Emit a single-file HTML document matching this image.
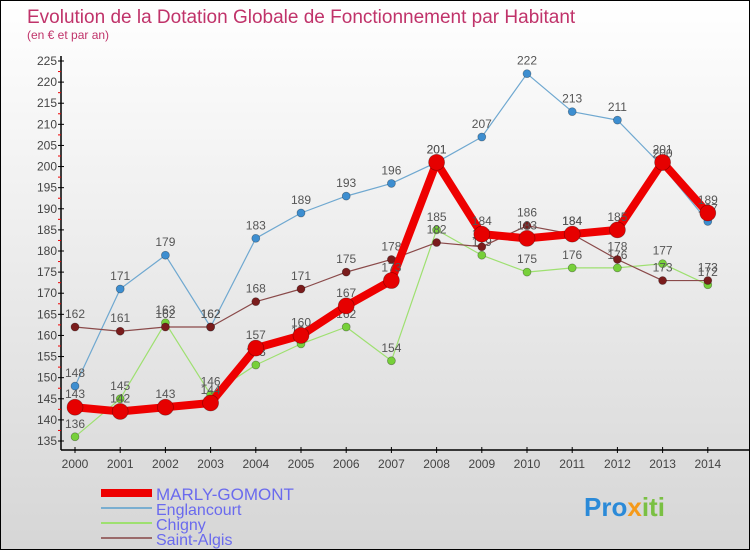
<!DOCTYPE html>
<html><head><meta charset="utf-8"><style>
body{margin:0;width:750px;height:550px;overflow:hidden;font-family:"Liberation Sans",sans-serif}
#wrap{position:relative;width:748px;height:548px;border:1px solid #000;background:linear-gradient(#fff,#d6d6d6)}
</style></head><body>
<div id="wrap">
<svg id="chart" width="748" height="548" font-family="Liberation Sans, sans-serif"></svg>
</div>
<script>
const years=[2000,2001,2002,2003,2004,2005,2006,2007,2008,2009,2010,2011,2012,2013,2014];
const marly=[143,142,143,144,157,160,167,173,201,184,183,184,185,201,189];
const englancourt=[148,171,179,162,183,189,193,196,201,207,222,213,211,200,187];
const chigny=[136,145,163,146,153,158,162,154,185,179,175,176,176,177,172];
const saintAlgis=[162,161,162,162,168,171,175,178,182,181,186,184,178,173,173];
const yTicks=[135,140,145,150,155,160,165,170,175,180,185,190,195,200,205,210,215,220,225];
const NS="http://www.w3.org/2000/svg";
const svg=document.getElementById('chart');
const x=i=>74+i*45.2;
const y=v=>440-(v-135)*(380/90);
function mk(t,a,p){const e=document.createElementNS(NS,t);for(const k in a)e.setAttribute(k,a[k]);(p||svg).appendChild(e);return e;}
let t=mk('text',{x:26,y:22,'font-size':19,fill:'#c0336a'});t.textContent='Evolution de la Dotation Globale de Fonctionnement par Habitant';


t=mk('text',{x:26,y:38,'font-size':12,fill:'#c0336a'});t.textContent='(en € et par an)';


let ax=mk('line',{x1:60,y1:55,x2:60,y2:449,stroke:'#000','stroke-width':1.5});


ax=mk('line',{x1:60,y1:449,x2:748,y2:449,stroke:'#000','stroke-width':1.5});


yTicks.forEach((v,i)=>{
 mk('line',{x1:57,y1:y(v),x2:63,y2:y(v),stroke:'#000'});
 if(i<yTicks.length-1) mk('line',{x1:57,y1:y(v+2.5),x2:60,y2:y(v+2.5),stroke:'#e00'});
 const l=mk('text',{x:56,y:y(v)+4,'font-size':12,fill:'#444','text-anchor':'end'});l.textContent=v;
 
 
});
years.forEach((yr,i)=>{
 mk('line',{x1:x(i),y1:446,x2:x(i),y2:452,stroke:'#000'});
 const l=mk('text',{x:x(i),y:467,'font-size':12,fill:'#444','text-anchor':'middle'});l.textContent=yr;
 
 
});
function series(data,color,w,r,name,dot){
 const g=mk('g',{});
 
 
 mk('polyline',{points:data.map((v,i)=>x(i)+','+y(v)).join(' '),fill:'none',stroke:color,'stroke-width':w,'stroke-linejoin':'round'},g);
 data.forEach((v,i)=>{
  const c=mk('circle',{cx:x(i),cy:y(v),r:r,fill:dot,stroke:'rgba(0,0,0,0.35)','stroke-width':0.7},g);
  
  
  const l=mk('text',{x:x(i),y:y(v)-9,'font-size':12,fill:'#555','text-anchor':'middle'},g);l.textContent=v;
 });
}
series(englancourt,'#6fa8d0',1.2,4,'englancourt','#3d8ed0');
series(chigny,'#9ee070',1.2,4,'chigny','#77d03a');
series(saintAlgis,'#8a4a4a',1.2,4,'saint-algis','#7a1c1c');
series(marly,'#ee0000',8,8,'marly-gomont','#e60000');
const leg=[['MARLY-GOMONT','#ee0000',8,17],['Englancourt','#7aaed0',2,16],['Chigny','#9ee070',2,16],['Saint-Algis','#9a6a6a',2,16]];
const ly=[499,514,529,544];
leg.forEach((d,i)=>{
 const g=mk('g',{});
 
 
 mk('line',{x1:100,y1:ly[i]-7,x2:151,y2:ly[i]-7,stroke:d[1],'stroke-width':d[2]},g);
 const l=mk('text',{x:155,y:ly[i],'font-size':d[3],fill:'#6a6aee'},g);l.textContent=d[0];
});
const lg=mk('text',{x:583,y:515,'font-size':26,'font-weight':'bold',fill:'#f59a1a'});
lg.innerHTML='<tspan fill="#2b8ad8">Pro</tspan><tspan fill="#f59a1a">x</tspan><tspan fill="#7ac043">iti</tspan>';


</script>
</body></html>
